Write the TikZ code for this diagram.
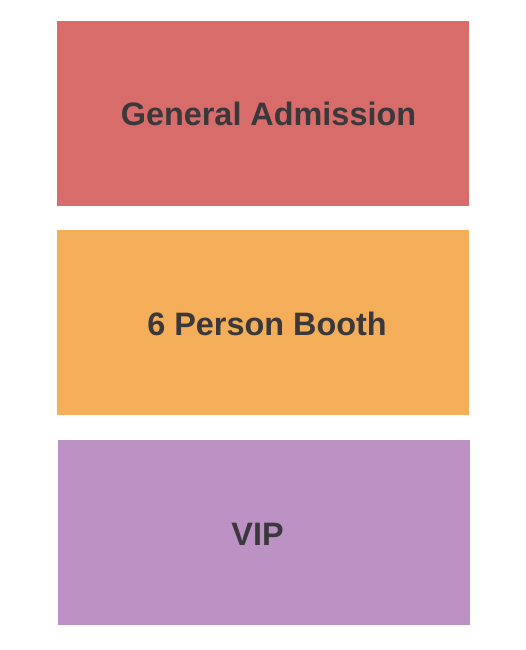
\documentclass[tikz,border=0pt]{standalone}
\usepackage{fontspec}
\setmainfont{Liberation Sans}
\definecolor{gared}{RGB}{216,108,107}
\definecolor{boothorange}{RGB}{244,174,89}
\definecolor{vippurple}{RGB}{188,145,195}
\definecolor{labelgray}{RGB}{58,56,58}
\tikzstyle{zone} = [rectangle, minimum width=412pt, minimum height=185pt, inner sep=0pt, anchor=north west]
\tikzstyle{lbl} = [anchor=base, inner sep=0pt, text=labelgray, font=\fontsize{32.4}{36}\selectfont\bfseries]

\begin{document}
\begin{tikzpicture}[x=1pt,y=-1pt]
		\useasboundingbox (0,0) rectangle (525,650);
		\node[zone,fill=gared](ga) at (57,21){};
		\node[zone,fill=boothorange](booth) at (57,230){};
		\node[zone,fill=vippurple](vip) at (58,440){};
		
		\node[lbl](galabel) at (268.5,125){General Admission};
		\node[lbl](boothlabel) at (267,335){6 Person Booth};
		\node[lbl](viplabel) at (257.5,545){VIP};
		\end{tikzpicture}
\end{document}
